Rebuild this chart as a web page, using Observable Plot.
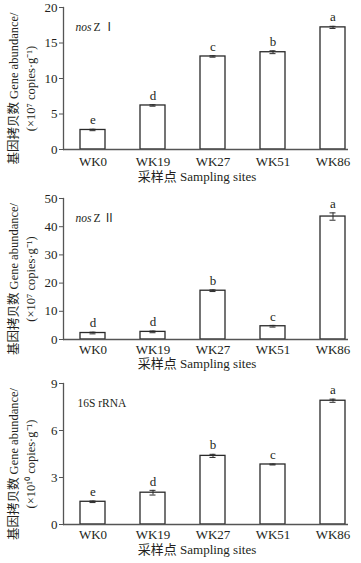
<!DOCTYPE html>
<html>
<head>
<meta charset="utf-8">
<script src="https://cdn.jsdelivr.net/npm/d3@7"></script>
<script src="https://cdn.jsdelivr.net/npm/@observablehq/plot@0.6"></script>
<style>
  html, body { margin: 0; padding: 0; background: #fff; }
  #chart svg { display: block; }
</style>
</head>
<body>
<div id="chart"></div>
<script>
// ---- data ----
const sites = ["WK0", "WK19", "WK27", "WK51", "WK86"];

const nosZ1Mean = [2.75, 6.2, 13.1, 13.7, 17.2];
const nosZ1Err = [0.1, 0.1, 0.1, 0.2, 0.15];
const nosZ1Letters = ["e", "d", "c", "b", "a"];
const nosZ1Ticks = [0, 5, 10, 15, 20];

const nosZ2Mean = [2.3, 2.7, 17.3, 4.7, 43.6];
const nosZ2Err = [0.3, 0.3, 0.3, 0.3, 1.3];
const nosZ2Letters = ["d", "d", "b", "c", "a"];
const nosZ2Ticks = [0, 10, 20, 30, 40, 50];

const rRNAMean = [1.45, 2.03, 4.38, 3.83, 7.9];
const rRNAErr = [0.05, 0.15, 0.1, 0.03, 0.1];
const rRNALetters = ["e", "d", "b", "c", "a"];
const rRNATicks = [0, 3, 6, 9];

const yLabel1 = "基因拷贝数 Gene abundance/";
const xLabel = "采样点 Sampling sites";

const panels = [
  {mean: nosZ1Mean, err: nosZ1Err, letters: nosZ1Letters, ticks: nosZ1Ticks,
   unit: "(×10⁷ copies·g⁻¹)", italic: "nos", rest: "Z Ⅰ",
   height: 186, mt: 7, mb: 37, tickPad: 7, xTitleDy: 31},
  {mean: nosZ2Mean, err: nosZ2Err, letters: nosZ2Letters, ticks: nosZ2Ticks,
   unit: "(×10⁷ copies·g⁻¹)", italic: "nos", rest: "Z Ⅱ",
   height: 186, mt: 12, mb: 33, tickPad: 5, xTitleDy: 28},
  {mean: rRNAMean, err: rRNAErr, letters: rRNALetters, ticks: rRNATicks,
   unit: "(×10¹⁰ copies·g⁻¹)", italic: "", rest: "16S rRNA",
   height: 191, mt: 11, mb: 39, tickPad: 5, xTitleDy: 29}
];

const ink = "#231f20";
const serif = "'Liberation Serif', 'Times New Roman', 'Noto Sans CJK SC', serif";

for (const p of panels) {
  const data = sites.map((s, i) => ({site: s, v: p.mean[i], e: p.err[i], l: p.letters[i]}));
  const ymax = p.ticks[p.ticks.length - 1];
  const marks = [
    Plot.barY(data, {x: "site", y: "v", fill: "white", stroke: "#2a2a2a", strokeWidth: 1.3}),
    Plot.ruleX(data, {x: "site", y1: d => d.v - d.e, y2: d => d.v + d.e, stroke: "#2a2a2a", strokeWidth: 1}),
    Plot.tickY(data, {x: "site", y: d => d.v + d.e, insetLeft: 9.5, insetRight: 9.5, stroke: "#2a2a2a", strokeWidth: 1}),
    Plot.tickY(data, {x: "site", y: d => d.v - d.e, insetLeft: 9.5, insetRight: 9.5, stroke: "#2a2a2a", strokeWidth: 1}),
    Plot.text(data, {x: "site", y: d => d.v + d.e, text: "l", dy: -9, fontSize: 13, fill: ink}),
    Plot.ruleY([0], {stroke: "#555", strokeWidth: 1.3}),
    Plot.frame({anchor: "left", stroke: "#555", strokeWidth: 1.3}),
    Plot.axisY({ticks: p.ticks, tickSize: 4, tickPadding: 2, fontSize: 13, label: null, stroke: "#555"}),
    Plot.axisX({tickSize: 0, tickPadding: p.tickPad, fontSize: 13, label: null}),
    Plot.text([0], {frameAnchor: "bottom", text: () => xLabel, dy: p.xTitleDy, dx: -9, fontSize: 13, fill: ink}),
    Plot.text([0], {frameAnchor: "left", text: () => yLabel1, rotate: -90, textAnchor: "middle", dx: -50, dy: 10, fontSize: 12.5, fill: ink}),
    Plot.text([0], {frameAnchor: "left", text: () => p.unit, rotate: -90, textAnchor: "middle", dx: -33, dy: 10, fontSize: 12.5, fill: ink})
  ];
  if (p.italic) {
    marks.push(Plot.text([0], {frameAnchor: "top-left", text: () => p.italic, dx: 12, dy: 15, textAnchor: "start", fontSize: 11.5, fontStyle: "italic", fill: ink}));
    marks.push(Plot.text([0], {frameAnchor: "top-left", text: () => p.rest, dx: 30, dy: 15, textAnchor: "start", fontSize: 11.5, fill: ink}));
  } else {
    marks.push(Plot.text([0], {frameAnchor: "top-left", text: () => p.rest, dx: 14, dy: 15, textAnchor: "start", fontSize: 11.5, fill: ink}));
  }
  const chart = Plot.plot({
    width: 361,
    height: p.height,
    marginLeft: 63,
    marginRight: 13,
    marginTop: p.mt,
    marginBottom: p.mb,
    style: {fontFamily: serif, color: ink, background: "white", overflow: "visible"},
    x: {domain: sites, paddingInner: 0.585, paddingOuter: 0.158, align: 0.87},
    y: {domain: [0, ymax]},
    marks
  });
  document.getElementById("chart").appendChild(chart);
}
</script>
</body>
</html>
